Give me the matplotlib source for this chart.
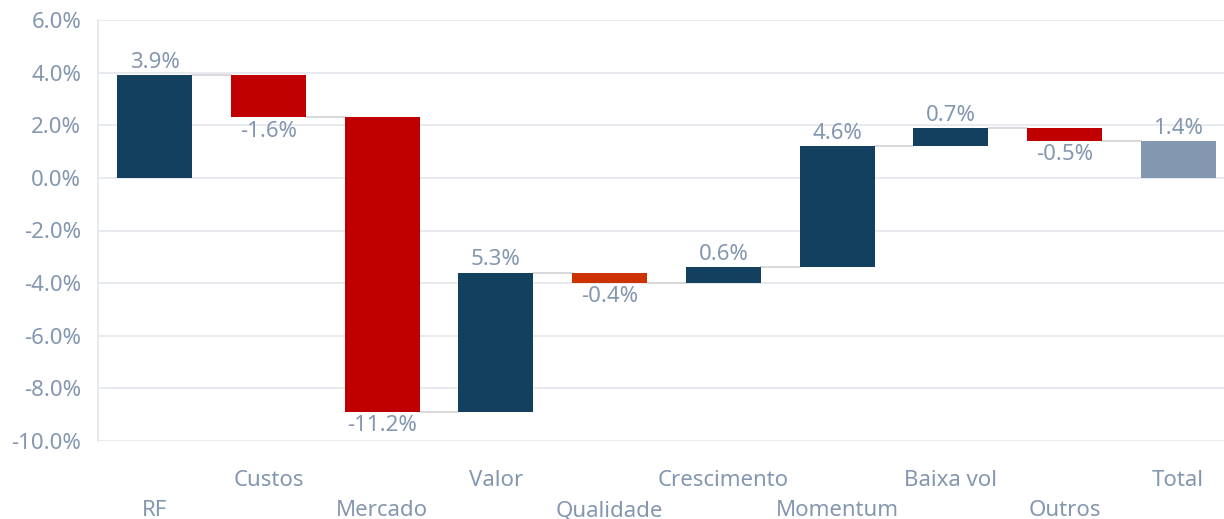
import numpy as np
import matplotlib.pyplot as plt
from matplotlib.ticker import FuncFormatter

categories = ["RF", "Custos", "Mercado", "Valor", "Qualidade", "Crescimento",
              "Momentum", "Baixa vol", "Outros", "Total"]
values = [3.9, -1.6, -11.2, 5.3, -0.4, 0.6, 4.6, 0.7, -0.5, 1.4]
colors = ["#12405E", "#C00000", "#C00000", "#12405E", "#CC3300",
          "#12405E", "#12405E", "#12405E", "#C00000", "#8497B0"]

txt = "#8497B0"
plt.rcParams["font.family"] = ["Noto Sans", "DejaVu Sans"]

fig = plt.figure(figsize=(12.24, 5.19), dpi=100)
ax = fig.add_axes([98 / 1224, 1 - 441 / 519, 1137 / 1224, 421 / 519])

x = np.arange(len(categories))
w = 0.66
bottoms = []
tops = []
level = 0.0
for i, v in enumerate(values):
    if i == len(values) - 1:
        b, t = 0.0, v
    else:
        b, t = level, level + v
        level = t
    bottoms.append(min(b, t))
    tops.append(max(b, t))

ax.bar(x, np.array(tops) - np.array(bottoms), bottom=bottoms, width=w,
       color=colors, zorder=3)

# lignes de liaison
level = 0.0
for i, v in enumerate(values[:-1]):
    level += v
    ax.plot([x[i] + w / 2, x[i + 1] - w / 2], [level, level],
            color="#D3D3D3", lw=1.2, zorder=2)

for i, v in enumerate(values):
    if v >= 0:
        ax.text(x[i], tops[i] + 0.08, f"{v:.1f}%", ha="center", va="bottom",
                color=txt, fontsize=16)
    else:
        ax.text(x[i], bottoms[i] - 0.12, f"{v:.1f}%", ha="center", va="top",
                color=txt, fontsize=16)

ax.set_xlim(-0.5, 9.5)
ax.set_ylim(-10, 6)
ax.set_yticks(np.arange(-10, 7, 2))
ax.yaxis.set_major_formatter(FuncFormatter(lambda y, _: f"{y:.1f}%"))
ax.grid(axis="y", color="#E3E7ED", lw=1.2, zorder=0)
ax.set_axisbelow(True)

# étiquettes de catégories en quinconce
ax.set_xticks(x)
ax.set_xticklabels([])
for i, cat in enumerate(categories):
    off = -54 if i % 2 == 0 else -32.4
    ax.annotate(cat, xy=(x[i], 0), xycoords=("data", "axes fraction"),
                xytext=(0, off), textcoords="offset points",
                ha="center", va="baseline", color=txt, fontsize=16,
                annotation_clip=False)

ax.tick_params(axis="both", length=0, colors=txt, labelsize=16)
ax.tick_params(axis="y", pad=12)
for s in ["top", "right", "bottom"]:
    ax.spines[s].set_visible(False)
ax.spines["left"].set_color("#E3E7ED")
ax.spines["left"].set_linewidth(1.2)

fig.savefig("out.png", dpi=100)
